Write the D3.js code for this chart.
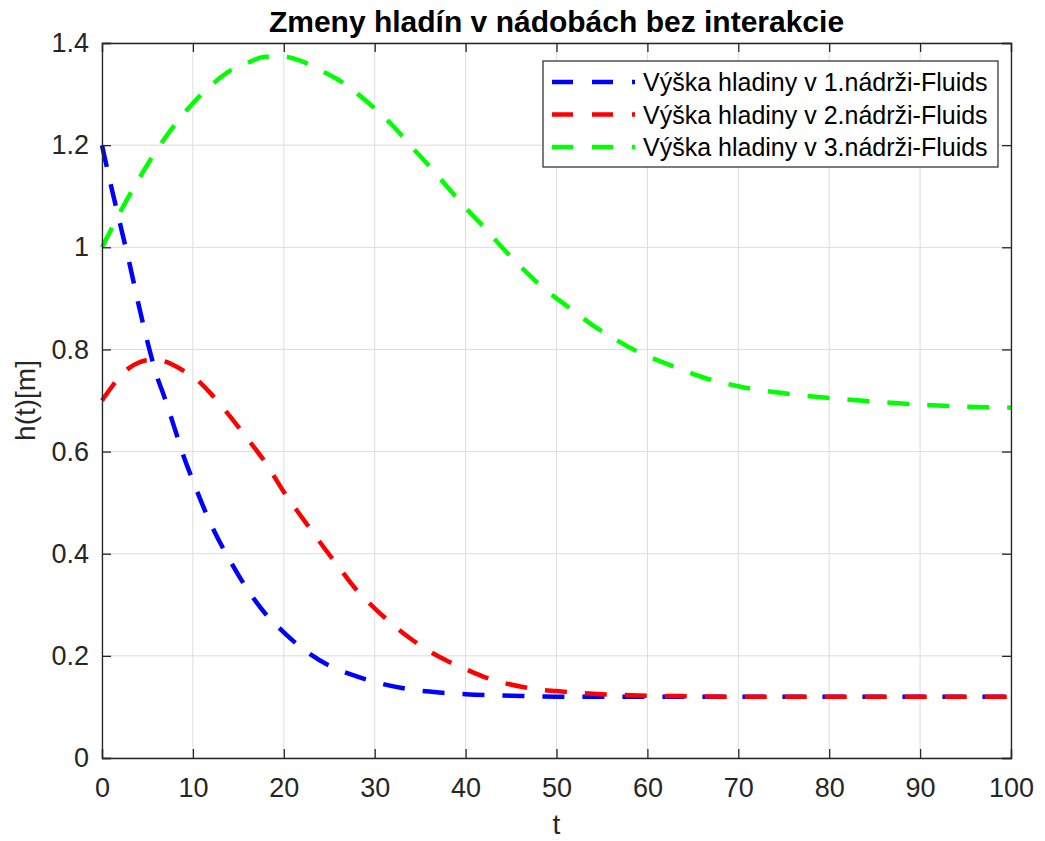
<!DOCTYPE html>
<html>
<head>
<meta charset="utf-8">
<script src="https://cdn.jsdelivr.net/npm/d3@7"></script>
<style>
  body { margin: 0; background: #fff; }
  svg { font-family: "Liberation Sans", Arial, Helvetica, sans-serif; }
</style>
</head>
<body>
<svg id="chart" width="1045" height="841"></svg>
<script>
// time samples and tank levels
const tBlue = [0, 1, 2, 3, 4, 5, 6, 7, 8, 9, 10, 12, 14, 16, 18, 20, 22, 25, 28, 30, 33, 36, 40, 45, 50, 60, 70, 80, 90, 100];
const hBlue = [1.2, 1.12, 1.045, 0.97, 0.89, 0.815, 0.75, 0.70, 0.645, 0.59, 0.543, 0.457, 0.389, 0.330, 0.282, 0.246, 0.215, 0.181, 0.16, 0.149, 0.137, 0.13, 0.125, 0.122, 0.12, 0.12, 0.12, 0.12, 0.12, 0.12];

const tRed = [0, 1, 2, 3, 4, 5, 6, 7, 8, 9, 10, 12, 14, 16, 18, 20, 22, 24, 26, 28, 30, 32, 34, 36, 38, 40, 42, 44, 46, 48, 50, 55, 60, 65, 70, 80, 90, 100];
const hRed = [0.70, 0.725, 0.748, 0.764, 0.774, 0.779, 0.779, 0.776, 0.768, 0.758, 0.747, 0.713, 0.671, 0.625, 0.578, 0.521, 0.471, 0.422, 0.375, 0.329, 0.293, 0.261, 0.233, 0.209, 0.19, 0.174, 0.159, 0.148, 0.140, 0.134, 0.131, 0.125, 0.122, 0.121, 0.12, 0.12, 0.12, 0.12];

const tGreen = [0, 2, 4, 6, 8, 10, 12, 14, 16, 18, 20, 22, 24, 26, 28, 30, 32, 34, 36, 38, 40, 42, 44, 46, 48, 50, 52, 54, 56, 58, 60, 63, 66, 70, 75, 80, 85, 90, 95, 100];
const hGreen = [1.0, 1.069, 1.132, 1.19, 1.24, 1.282, 1.317, 1.345, 1.361, 1.373, 1.373, 1.364, 1.347, 1.328, 1.302, 1.272, 1.238, 1.198, 1.159, 1.118, 1.077, 1.04, 1.0, 0.963, 0.929, 0.900, 0.874, 0.847, 0.825, 0.804, 0.787, 0.766, 0.746, 0.728, 0.714, 0.705, 0.698, 0.692, 0.688, 0.686];

const seriesNames = ["Výška hladiny v 1.nádrži-Fluids", "Výška hladiny v 2.nádrži-Fluids", "Výška hladiny v 3.nádrži-Fluids"];
const seriesColors = ["#0000ff", "#ff0000", "#00ff00"];
const xTicks = [0, 10, 20, 30, 40, 50, 60, 70, 80, 90, 100];
const yTicks = [0, 0.2, 0.4, 0.6, 0.8, 1, 1.2, 1.4];

const margin = { top: 43, right: 34, bottom: 83, left: 102 };
const width = 1045, height = 841;
const innerW = width - margin.left - margin.right;
const innerH = height - margin.top - margin.bottom;
const axisColor = "#262626";
const dash = "22,18";

const svg = d3.select("#chart");
const g = svg.append("g").attr("transform", `translate(${margin.left},${margin.top})`);

const x = d3.scaleLinear().domain([0, 100]).range([0, innerW]);
const y = d3.scaleLinear().domain([0, 1.4]).range([innerH, 0]);

// grid
g.append("g").selectAll("line").data(xTicks).join("line")
  .attr("x1", d => x(d)).attr("x2", d => x(d))
  .attr("y1", 0).attr("y2", innerH)
  .attr("stroke", "#dcdcdc").attr("stroke-width", 1);
g.append("g").selectAll("line").data(yTicks).join("line")
  .attr("y1", d => y(d)).attr("y2", d => y(d))
  .attr("x1", 0).attr("x2", innerW)
  .attr("stroke", "#dcdcdc").attr("stroke-width", 1);

// lines
const line = d3.line().x(d => x(d[0])).y(d => y(d[1])).curve(d3.curveMonotoneX);
const series = [
  d3.zip(tBlue, hBlue),
  d3.zip(tRed, hRed),
  d3.zip(tGreen, hGreen)
];
g.append("g").selectAll("path").data(series).join("path")
  .attr("d", line)
  .attr("fill", "none")
  .attr("stroke", (d, i) => seriesColors[i])
  .attr("stroke-width", 4.5)
  .attr("stroke-dasharray", dash);

// axes (ticks inward, box on)
const tickFmt = d => String(d);
const xAxisB = d3.axisBottom(x).tickValues(xTicks).tickSize(-9).tickPadding(20).tickFormat(tickFmt);
const xAxisT = d3.axisTop(x).tickValues(xTicks).tickSize(-9).tickFormat("");
const yAxisL = d3.axisLeft(y).tickValues(yTicks).tickSize(-9).tickPadding(13).tickFormat(tickFmt);
const yAxisR = d3.axisRight(y).tickValues(yTicks).tickSize(-9).tickFormat("");

function styleAxis(sel) {
  sel.attr("font-family", null).attr("font-size", null);
  sel.select(".domain").attr("stroke", axisColor).attr("stroke-width", 1.3);
  sel.selectAll(".tick line").attr("stroke", axisColor).attr("stroke-width", 1.3);
  sel.selectAll(".tick text").attr("fill", axisColor).attr("font-size", 27);
}
g.append("g").attr("transform", `translate(0,${innerH})`).call(xAxisB).call(styleAxis);
g.append("g").call(xAxisT).call(styleAxis);
g.append("g").call(yAxisL).call(styleAxis);
g.append("g").attr("transform", `translate(${innerW},0)`).call(yAxisR).call(styleAxis);

// title and labels
svg.append("text")
  .attr("x", margin.left + innerW / 2).attr("y", 32)
  .attr("text-anchor", "middle")
  .attr("font-weight", "bold").attr("font-size", 30)
  .attr("fill", "#000")
  .text("Zmeny hladín v nádobách bez interakcie");

svg.append("text")
  .attr("x", margin.left + innerW / 2).attr("y", 834)
  .attr("text-anchor", "middle")
  .attr("font-size", 28).attr("fill", axisColor)
  .text("t");

svg.append("text")
  .attr("transform", `translate(35,${margin.top + innerH / 2}) rotate(-90)`)
  .attr("text-anchor", "middle")
  .attr("font-size", 28).attr("fill", axisColor)
  .text("h(t)[m]");

// legend
const legend = svg.append("g").attr("transform", "translate(543,61)");
legend.append("rect")
  .attr("width", 455).attr("height", 106)
  .attr("fill", "#fff").attr("stroke", axisColor).attr("stroke-width", 1.2);
const rows = legend.selectAll("g.row").data(seriesNames).join("g")
  .attr("class", "row")
  .attr("transform", (d, i) => `translate(0,${21 + i * 32.5})`);
rows.append("line")
  .attr("x1", 9).attr("x2", 92)
  .attr("stroke", (d, i) => seriesColors[i])
  .attr("stroke-width", 4.5)
  .attr("stroke-dasharray", "21,19");
rows.append("text")
  .attr("x", 100).attr("y", 9)
  .attr("font-size", 25).attr("fill", "#000")
  .text(d => d);
</script>
</body>
</html>
